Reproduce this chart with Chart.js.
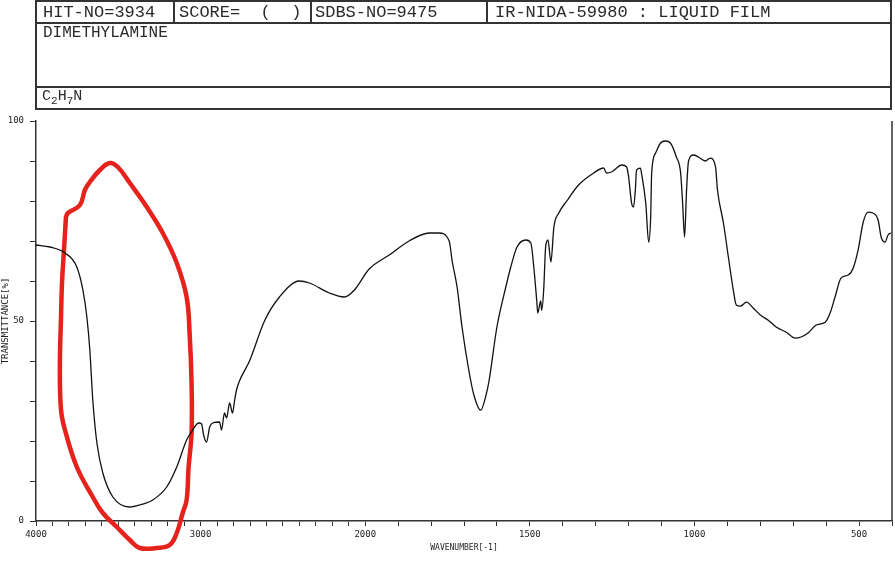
<!DOCTYPE html>
<html>
<head>
<meta charset="utf-8">
<title>DIMETHYLAMINE IR</title>
<script src="https://cdn.jsdelivr.net/npm/chart.js@4.4.1/dist/chart.umd.min.js"></script>
<style>
  body { margin: 0; background: #fff; }
  #wrap { position: relative; width: 895px; height: 563px; overflow: hidden; }
  #spectrum { position: absolute; left: 0; top: 0; }
  .line { position: absolute; background: #333; }
  .txt { position: absolute; font-family: 'Liberation Mono', 'DejaVu Sans Mono', monospace; font-size: 17px; line-height: 17px; color: #2a2a2a; white-space: pre; }
  .txt sub { font-size: 11px; vertical-align: -4px; line-height: 0; }
</style>
</head>
<body>
<div id="wrap">
  <canvas id="spectrum" width="895" height="563"></canvas>

  <!-- header box -->
  <div class="line" style="left:35px; top:0; width:857px; height:1.5px"></div>
  <div class="line" style="left:35px; top:22px; width:857px; height:1.5px"></div>
  <div class="line" style="left:35px; top:86px; width:857px; height:1.5px"></div>
  <div class="line" style="left:35px; top:108px; width:857px; height:1.5px"></div>
  <div class="line" style="left:35px; top:0; width:1.5px; height:109px"></div>
  <div class="line" style="left:890px; top:0; width:1.5px; height:109px"></div>
  <div class="line" style="left:173px; top:0; width:1.5px; height:23px"></div>
  <div class="line" style="left:310px; top:0; width:1.5px; height:23px"></div>
  <div class="line" style="left:486px; top:0; width:1.5px; height:23px"></div>

  <div class="txt" style="left:43px; top:4px">HIT-NO=3934</div>
  <div class="txt" style="left:179px; top:4px">SCORE=  (  )</div>
  <div class="txt" style="left:315px; top:4px">SDBS-NO=9475</div>
  <div class="txt" style="left:495px; top:4px">IR-NIDA-59980 : LIQUID FILM</div>
  <div class="txt" style="left:43px; top:25px; font-size:16px">DIMETHYLAMINE</div>
  <div class="txt" style="left:42px; top:88px; font-size:15px">C<sub>2</sub>H<sub>7</sub>N</div>
</div>

<script>
// ========== Data ==========
const wavenumbers = [
  4000, 3915, 3824, 3752, 3715, 3691, 3673, 3655, 3630, 3594,
  3533, 3430, 3370, 3291, 3206, 3145, 3085, 3048, 3012, 2994,
  2982, 2964, 2945, 2927, 2885, 2873, 2855, 2842, 2824, 2806,
  2794, 2782, 2764, 2703, 2612, 2521, 2400, 2339, 2218, 2127,
  2067, 1988, 1927, 1867, 1806, 1776, 1745, 1736, 1721, 1706,
  1685, 1670, 1649, 1633, 1624, 1600, 1573, 1558, 1539, 1512,
  1497, 1488, 1479, 1476, 1467, 1464, 1458, 1452, 1445, 1436,
  1427, 1412, 1388, 1352, 1306, 1276, 1267, 1252, 1221, 1206,
  1200, 1191, 1185, 1179, 1176, 1164, 1161, 1148, 1139, 1133,
  1130, 1118, 1103, 1088, 1073, 1055, 1042, 1036, 1030, 1024,
  1018, 1003, 988, 967, 952, 936, 930, 912, 897, 882,
  873, 861, 842, 821, 800, 776, 752, 721, 694, 676,
  655, 630, 603, 588, 573, 555, 533, 518, 503, 488,
  473, 458, 442, 433, 421, 412, 403
];
const transmittance = [
  69, 68.5, 67, 63.5, 57.7, 51, 42.75, 30.25, 19.5, 12,
  6, 3.5, 4, 5.25, 8.5, 13.5, 20.25, 22.75, 24.5, 24.25,
  21.5, 19.75, 23.5, 24.5, 24.75, 22.75, 27, 25.75, 29.5, 27,
  30, 32.75, 35, 40, 50, 56, 60, 59.5, 57, 56,
  57.7, 63, 66.5, 70, 72, 72, 70, 65, 58.5, 48.5,
  37.5, 31.5, 27.7, 31.5, 35, 48.5, 58.5, 63.5, 68.5, 70.25,
  69.5, 63.5, 55, 52, 55, 52.7, 57.7, 68.5, 70.25, 64.75,
  73.5, 77, 80, 84, 87, 88.25, 87, 87.25, 89, 88.5,
  86, 79.5, 78.5, 83.5, 87.7, 88.2, 87, 79.5, 69.7, 76,
  87, 92, 94.5, 95, 94.5, 91, 87, 79.5, 71, 82.7,
  90, 91.5, 91, 90, 90.7, 88.5, 82.7, 74.5, 66, 57.7,
  54, 53.7, 54.7, 53.2, 51.5, 50.2, 48.5, 47.2, 45.7, 46,
  47, 49, 49.7, 52, 56, 60.7, 61.5, 63.2, 67.7, 74.5,
  77.2, 77, 75.2, 71, 69.7, 71.5, 72
];

// hand-drawn red loop round the N-H band
const loopWn = [
  3818, 3806, 3733, 3703, 3673, 3612, 3552, 3503, 3430, 3327,
  3230, 3145, 3085, 3067, 3055, 3055, 3073, 3085, 3109, 3145,
  3188, 3267, 3370, 3430, 3509, 3594, 3655, 3752, 3824, 3848,
  3855, 3848, 3842, 3830, 3818
];
const loopT = [
  76, 77, 79, 82.75, 84.75, 87.75, 89.5, 88.5, 84.5, 78.5,
  72, 64.5, 56, 47, 34.5, 22, 13.5, 5.25, 2, -3,
  -6, -6.75, -6.75, -4.75, -1.5, 2, 6, 13.5, 22.75, 27.75,
  38.5, 51, 59.5, 67.75, 76
];

const xLabels = [4000, 3000, 2000, 1500, 1000, 500];
const yLabels = [0, 50, 100];
const xBreak = 2000; // scale is compressed 2x above this

// ========== Split wavenumber scale ==========
const Linear = Chart.LinearScale || Chart.registry.getScale('linear');
class SplitScale extends Linear {
  posOf(v) {
    const hi = this.max;
    return v >= xBreak ? (hi - v) / 2 : (hi - xBreak) / 2 + (xBreak - v);
  }
  getPixelForValue(v) {
    if (v === null || v === undefined) return NaN;
    return this.getPixelForDecimal(this.posOf(v) / this.posOf(this.min));
  }
  getValueForPixel(p) {
    const pos = this.getDecimalForPixel(p) * this.posOf(this.min);
    const brkPos = (this.max - xBreak) / 2;
    return pos <= brkPos ? this.max - pos * 2 : xBreak - (pos - brkPos);
  }
}
SplitScale.id = 'split';
SplitScale.defaults = {};
Chart.register(SplitScale);

const xTicks = [];
for (let w = 4000; w >= 400; w -= 100) xTicks.push(w);

// ========== Chart ==========
const frame = {
  id: 'frame',
  afterDraw(chart) {
    const { ctx, chartArea } = chart;
    ctx.save();
    ctx.strokeStyle = '#333';
    ctx.lineWidth = 1.5;
    ctx.beginPath();
    ctx.moveTo(chartArea.right, chartArea.top);
    ctx.lineTo(chartArea.right, chartArea.bottom);
    ctx.stroke();
    ctx.restore();
  }
};

const mono = 'DejaVu Sans Mono';

new Chart(document.getElementById('spectrum'), {
  type: 'line',
  data: {
    datasets: [
      {
        data: wavenumbers.map((w, i) => ({ x: w, y: transmittance[i] })),
        borderColor: '#111',
        borderWidth: 1.3,
        pointRadius: 0,
        cubicInterpolationMode: 'monotone',
        fill: false
      },
      {
        data: loopWn.map((w, i) => ({ x: w, y: loopT[i] })),
        borderColor: '#e5221b',
        borderWidth: 4.5,
        pointRadius: 0,
        tension: 0.4,
        borderCapStyle: 'round',
        borderJoinStyle: 'round',
        clip: false,
        fill: false
      }
    ]
  },
  options: {
    responsive: false,
    animation: false,
    devicePixelRatio: 1,
    layout: { padding: { top: 121, right: 3, left: 0, bottom: 0 }, autoPadding: false },
    plugins: { legend: { display: false }, tooltip: { enabled: false } },
    scales: {
      x: {
        type: 'split',
        min: 400,
        max: 4000,
        afterBuildTicks: s => { s.ticks = xTicks.map(v => ({ value: v })); },
        afterFit: s => { s.height = 42; },
        ticks: {
          autoSkip: false,
          maxRotation: 0,
          padding: 3,
          color: '#222',
          font: { family: mono, size: 9 },
          callback: v => xLabels.includes(v) ? String(v) : ''
        },
        grid: { drawOnChartArea: false, tickLength: 5, color: '#333' },
        border: { color: '#333', width: 1.5 },
        title: {
          display: true,
          text: 'WAVENUMBER[-1]',
          color: '#222',
          font: { family: mono, size: 8 },
          padding: { top: 4, bottom: 10 }
        }
      },
      y: {
        min: 0,
        max: 100,
        afterFit: s => { s.width = 36; },
        ticks: {
          stepSize: 10,
          autoSkip: false,
          padding: 6,
          color: '#222',
          font: { family: mono, size: 9 },
          callback: v => yLabels.includes(v) ? String(v) : ''
        },
        grid: { drawOnChartArea: false, tickLength: 6, color: '#333' },
        border: { color: '#333', width: 1.5 },
        title: {
          display: true,
          text: 'TRANSMITTANCE[%]',
          color: '#222',
          font: { family: mono, size: 9 },
          padding: 0
        }
      }
    }
  },
  plugins: [frame]
});
</script>
</body>
</html>
